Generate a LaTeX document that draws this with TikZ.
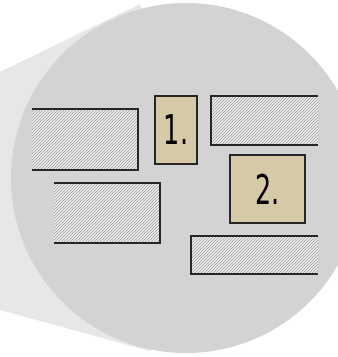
\documentclass[tikz,border=0pt]{standalone}
\usepackage{fontspec}
\newfontfamily\digitfont[FakeStretch=0.62]{DejaVu Sans}
\usetikzlibrary{patterns}

\definecolor{lensgray}{HTML}{D3D3D3}
\definecolor{conegray}{HTML}{E7E7E7}
\definecolor{boxtan}{HTML}{D6C9A7}
\definecolor{hatchbg}{HTML}{EFEFEF}
\definecolor{hatchline}{HTML}{9A9A9A}

\begin{document}
\begin{tikzpicture}[x=1pt, y=-1pt,
    wall/.style={draw=black!85, line width=1.7pt},
    hatchbox/.style={inner sep=0pt, preaction={fill=hatchbg},
      pattern=north east lines, pattern color=hatchline},
    itembox/.style={draw=black!85, line width=1.7pt, fill=boxtan,
      inner sep=0pt, font=\digitfont\fontsize{41}{41}\selectfont}]

  % --- 1. 枠と背景 ---
  \useasboundingbox (0,0) rectangle (338,357);
  \clip (0,0) rectangle (338,357);
  \coordinate (C) at (186,178);
  % 拡大円へ向かう円錐 (薄い灰色)
  \fill[conegray] (0,72) -- (140,4) -- (C) -- (150,351) -- (0,310) -- cycle;
  \fill[lensgray] (C) circle (175);

  % --- 2. 斜線の壁 ---
  \node[hatchbox, minimum width=106, minimum height=61] (wallA) at (85,139.5) {};
  \node[hatchbox, minimum width=106, minimum height=60] (wallB) at (107,213) {};
  \node[hatchbox, minimum width=107, minimum height=49] (wallC) at (264.5,120.5) {};
  \node[hatchbox, minimum width=127, minimum height=38] (wallD) at (254.5,255) {};
  % 左の壁は左側が開いている, 右の壁は右側が開いている
  \draw[wall] (wallA.north west) -- (wallA.north east) -- (wallA.south east) -- (wallA.south west);
  \draw[wall] (wallB.north west) -- (wallB.north east) -- (wallB.south east) -- (wallB.south west);
  \draw[wall] (wallC.north east) -- (wallC.north west) -- (wallC.south west) -- (wallC.south east);
  \draw[wall] (wallD.north east) -- (wallD.north west) -- (wallD.south west) -- (wallD.south east);

  % --- 3. 番号付きの箱 ---
  \node[itembox, minimum width=42, minimum height=68] (box1) at (176,130) {1.};
  \node[itembox, minimum width=75, minimum height=68] (box2) at (267.5,189) {2.};
\end{tikzpicture}
\end{document}
